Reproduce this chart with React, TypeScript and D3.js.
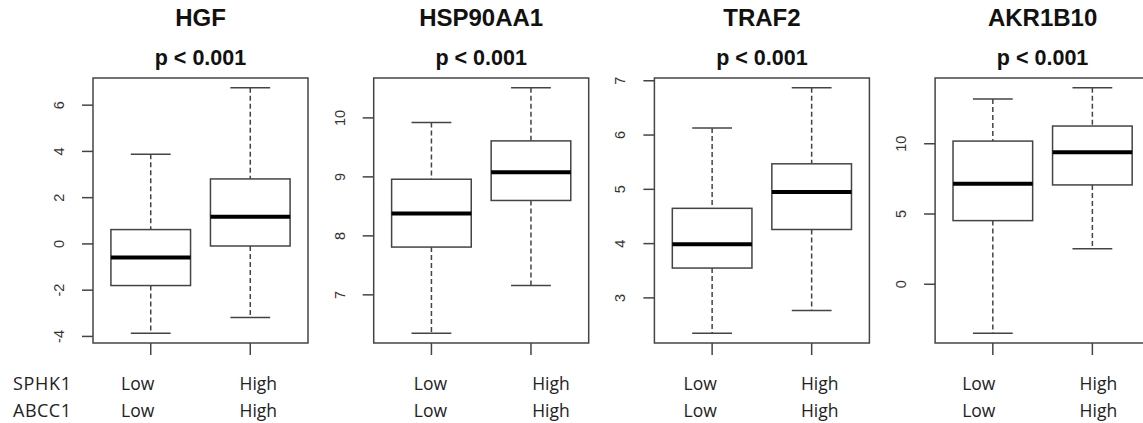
import React from "react";
import * as d3 from "d3";

const genes = ["HGF", "HSP90AA1", "TRAF2", "AKR1B10"];
const pLabels = ["p < 0.001", "p < 0.001", "p < 0.001", "p < 0.001"];
const groups = ["Low", "High"];
const rowNames = ["SPHK1", "ABCC1"];
// [whiskerLow, Q1, median, Q3, whiskerHigh] for Low group
const lowStats = [
  [-3.86, -1.8, -0.59, 0.62, 3.88],
  [6.35, 7.81, 8.38, 8.96, 9.92],
  [2.35, 3.55, 3.99, 4.65, 6.13],
  [-3.48, 4.53, 7.16, 10.19, 13.18],
];
// High group
const highStats = [
  [-3.18, -0.09, 1.17, 2.81, 6.75],
  [7.16, 8.6, 9.08, 9.61, 10.51],
  [2.77, 4.26, 4.95, 5.47, 6.87],
  [2.53, 7.07, 9.39, 11.26, 13.98],
];
const yTicks = [
  [-4, -2, 0, 2, 4, 6],
  [7, 8, 9, 10],
  [3, 4, 5, 6, 7],
  [0, 5, 10],
];
// manual label offsets (layout) relative to tick position
const labelOffsets = [
  [-13, 8],
  [-1, 20],
  [-12, 8],
  [-14, 6],
];

const W = 1143;
const H = 423;
const plotTop = 78;
const plotBottom = 343;
const plotW = 215;
const firstLeft = 93;
const step = 280.7;
const lineColor = "#444";
const labelFont = "Open Sans, Noto Sans, sans-serif";
const rowY = [390, 417];

function Panel({ i }: { i: number }) {
  const left = firstLeft + i * step;
  const x = d3.scaleLinear().domain([0.42, 2.58]).range([left, left + plotW]);
  const all = [...lowStats[i], ...highStats[i]];
  const mn = d3.min(all)!;
  const mx = d3.max(all)!;
  const pad = (mx - mn) * 0.04;
  const y = d3.scaleLinear().domain([mn - pad, mx + pad]).range([plotBottom, plotTop]);
  const stats = [lowStats[i], highStats[i]];
  const cx = (left + left + plotW) / 2;
  const bw = x(1.4) - x(1);
  const cw = x(1.2) - x(1);
  return (
    <g>
      <text x={cx} y={26} textAnchor="middle" fontFamily="Liberation Sans, Arial, sans-serif" fontWeight="bold" fontSize={24} fill="#111">
        {genes[i]}
      </text>
      <text x={cx} y={65} textAnchor="middle" fontFamily="Liberation Sans, Arial, sans-serif" fontWeight="bold" fontSize={21.5} fill="#111">
        {pLabels[i]}
      </text>
      {stats.map((s, g) => {
        const px = x(g + 1);
        return (
          <g key={g}>
            <line x1={px} x2={px} y1={y(s[4])} y2={y(s[3])} stroke={lineColor} strokeWidth={1.5} strokeDasharray="5,3" />
            <line x1={px} x2={px} y1={y(s[1])} y2={y(s[0])} stroke={lineColor} strokeWidth={1.5} strokeDasharray="5,3" />
            <line x1={px - cw} x2={px + cw} y1={y(s[4])} y2={y(s[4])} stroke={lineColor} strokeWidth={1.5} />
            <line x1={px - cw} x2={px + cw} y1={y(s[0])} y2={y(s[0])} stroke={lineColor} strokeWidth={1.5} />
            <rect x={px - bw} y={y(s[3])} width={2 * bw} height={y(s[1]) - y(s[3])} fill="white" stroke={lineColor} strokeWidth={1.5} />
            <line x1={px - bw} x2={px + bw} y1={y(s[2])} y2={y(s[2])} stroke="#000" strokeWidth={4} />
            <line x1={px} x2={px} y1={plotBottom} y2={plotBottom + 12} stroke={lineColor} strokeWidth={1.5} />
            {rowY.map((ry, r) => (
              <text key={r} x={px + labelOffsets[i][g]} y={ry} textAnchor="middle" fontFamily={labelFont} fontSize={17.5} fill="#222">
                {groups[g]}
              </text>
            ))}
          </g>
        );
      })}
      <rect x={left} y={plotTop} width={plotW} height={plotBottom - plotTop} fill="none" stroke={lineColor} strokeWidth={1.5} />
      {yTicks[i].map((t) => (
        <g key={t}>
          <line x1={left - 11} x2={left} y1={y(t)} y2={y(t)} stroke={lineColor} strokeWidth={1.5} />
          <text
            transform={`translate(${left - 34},${y(t)}) rotate(-90)`}
            textAnchor="middle"
            dominantBaseline="central"
            fontFamily="Liberation Sans, Arial, sans-serif"
            fontSize={14.5}
            fill="#333"
          >
            {t}
          </text>
        </g>
      ))}
    </g>
  );
}

export default function App() {
  return (
    <svg width={W} height={H} style={{ position: "absolute", left: 0, top: 0, background: "white" }}>
      <rect width={W} height={H} fill="white" />
      {genes.map((_, i) => (
        <Panel key={i} i={i} />
      ))}
      {rowNames.map((n, r) => (
        <text key={n} x={13} y={rowY[r]} fontFamily={labelFont} fontSize={18} textLength={58} lengthAdjust="spacing" fill="#222">
          {n}
        </text>
      ))}
    </svg>
  );
}
